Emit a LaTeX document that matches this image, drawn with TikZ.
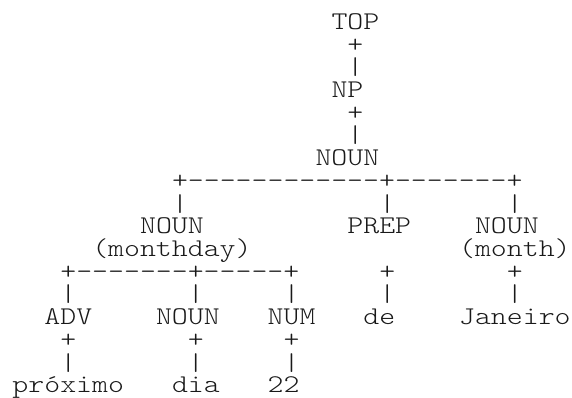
\documentclass[tikz,border=0pt]{standalone}
\usepackage{fontspec}
% a light typewriter face, widened to a 15.95pt character cell
\setmonofont[FakeStretch=1.19]{Latin Modern Mono Light}
\begin{document}
\begin{tikzpicture}[
  x=15.95pt, y=22.7pt,
  txt/.style={anchor=base west, inner sep=0pt, outer sep=0pt, text=black!90,
              font=\ttfamily\fontsize{25.5pt}{25.5pt}\selectfont},
  vbar/.style={txt, yscale=0.95, transform shape}
]
% page frame: one character cell is 15.95pt wide, one text line 22.7pt high
\useasboundingbox (-12.5pt,29.5pt) rectangle (559.5pt,-368.5pt);

% line 1--7: the root chain
\node[txt]  (top)   at (20, 0) {TOP};
\node[txt]  (topP)  at (21,-1) {+};
\node[vbar] (topV)  at (21,-2) {|};
\node[txt]  (np)    at (20,-3) {NP};
\node[txt]  (npP)   at (21,-4) {+};
\node[vbar] (npV)   at (21,-5) {|};
\node[txt]  (noun)  at (19,-6) {NOUN};

% line 8--11: first branching
\node[txt]  (barA)  at (10,-7) {+------------+-------+};
\node[vbar] (vA1)   at (10,-8) {|};
\node[vbar] (vA2)   at (23,-8) {|};
\node[vbar] (vA3)   at (31,-8) {|};
\node[txt]  (nmd)   at ( 8,-9) {NOUN};
\node[txt]  (prep)  at (21,-9) {PREP};
\node[txt]  (nmon)  at (29,-9) {NOUN};
\node[txt]  (mdtag) at ( 5,-10) {(monthday)};
\node[txt]  (mtag)  at (28,-10) {(month)};

% line 12--14: second branching and the pre-terminals
\node[txt]  (barB)  at ( 3,-11) {+-------+-----+};
\node[txt]  (prepP) at (23,-11) {+};
\node[txt]  (nmonP) at (31,-11) {+};
\node[vbar] (vB1)   at ( 3,-12) {|};
\node[vbar] (vB2)   at (11,-12) {|};
\node[vbar] (vB3)   at (17,-12) {|};
\node[vbar] (prepV) at (23,-12) {|};
\node[vbar] (nmonV) at (31,-12) {|};
\node[txt]  (adv)   at ( 2,-13) {ADV};
\node[txt]  (nday)  at ( 9,-13) {NOUN};
\node[txt]  (num)   at (16,-13) {NUM};
\node[txt]  (de)    at (22,-13) {de};
\node[txt]  (jan)   at (28,-13) {Janeiro};

% line 15--17: words under the pre-terminals
\node[txt]  (advP)  at ( 3,-14) {+};
\node[txt]  (ndayP) at (11,-14) {+};
\node[txt]  (numP)  at (17,-14) {+};
\node[vbar] (advV)  at ( 3,-15) {|};
\node[vbar] (ndayV) at (11,-15) {|};
\node[vbar] (numV)  at (17,-15) {|};
\node[txt]  (prox)  at ( 0,-16) {próximo};
\node[txt]  (dia)   at (10,-16) {dia};
\node[txt]  (n22)   at (16,-16) {22};
\end{tikzpicture}
\end{document}
